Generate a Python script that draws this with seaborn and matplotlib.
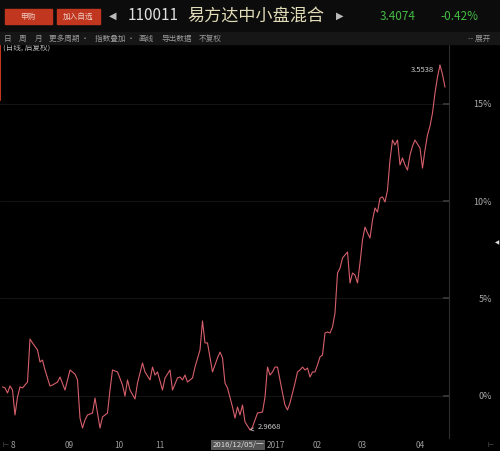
import matplotlib
matplotlib.use('Agg')
import matplotlib.pyplot as plt
import seaborn as sns
import pandas as pd
from matplotlib.patches import Rectangle

# trading-day index since the start of the window, and cumulative change in %
days = [1, 2, 3, 4, 5, 6, 7, 8, 9, 11, 12, 13, 15, 16, 17, 18, 20, 21, 23, 24,
        26, 28, 30, 31, 32, 33, 34, 35, 37, 38, 39, 40, 41, 43, 44, 45, 47, 49, 50, 51,
        52, 54, 55, 57, 58, 60, 61, 62, 63, 65, 66, 68, 69, 71, 72, 73, 74, 75, 77, 78,
        80, 81, 82, 83, 85, 87, 88, 89, 90, 91, 93, 94, 95, 96, 97, 98, 100, 101, 103, 105,
        106, 107, 108, 109, 110, 111, 112, 113, 114, 115, 116, 117, 118, 119, 120, 121, 122, 123, 124, 125,
        126, 127, 128, 129, 130, 131, 132, 133, 134, 135, 136, 137, 138, 139, 140, 141, 142, 143, 144, 145,
        146, 147, 148, 149, 150, 151, 152, 153, 154, 155, 156, 157, 158, 159, 160, 161, 162, 163, 164, 165,
        166, 168, 169, 170, 171, 172, 173, 174, 175, 176, 177, 178]
pct = [0.45, 0.40, 0.14, 0.50, 0.29, -0.99, -0.07, 0.45, 0.40, 0.70, 2.91, 2.71, 2.35, 1.73, 1.83, 1.32, 0.50, 0.55, 0.70, 0.96,
       0.29, 1.32, 1.11, 0.81, -1.15, -1.66, -1.25, -0.99, -0.89, -0.12, -0.89, -1.66, -1.09, -0.89, 0.29, 1.32, 1.22, 0.55, -0.02, 0.81,
       0.29, -0.17, 0.65, 1.68, 1.22, 0.81, 1.47, 1.06, 1.22, 0.29, 0.91, 1.32, 0.29, 0.91, 0.96, 0.81, 1.06, 0.70, 0.91, 1.47,
       2.35, 3.84, 2.71, 2.71, 1.22, 1.94, 2.24, 1.94, 0.65, 0.40, -0.58, -1.15, -0.58, -0.99, -0.48, -1.35, -1.76, -1.61, -0.89, -0.84,
       -0.07, 1.47, 1.06, 1.22, 1.47, 1.47, 0.81, 0.14, -0.48, -0.73, -0.37, 0.14, 0.65, 1.22, 1.32, 1.47, 1.32, 1.42, 0.96, 1.22,
       1.22, 1.58, 1.99, 2.09, 3.22, 3.27, 3.22, 3.53, 4.25, 6.30, 6.55, 7.07, 7.23, 7.38, 5.79, 6.30, 6.20, 5.79, 6.82, 8.00,
       8.66, 8.36, 8.10, 9.02, 9.64, 9.43, 10.15, 10.21, 9.95, 10.56, 12.11, 13.13, 12.88, 13.13, 11.85, 12.21, 11.85, 11.59, 12.36, 12.82,
       13.13, 12.72, 11.69, 12.62, 13.39, 13.85, 14.52, 15.55, 16.37, 16.98, 16.50, 15.85]

month_labels = ['8', '09', '10', '11', '2017', '02', '03', '04']
ytick_vals = [0, 5, 10, 15]
ytick_labels = ['0%', '5%', '10%', '15%']
max_price = '3.5538'
min_price = '2.9668'

df = pd.DataFrame({'day': days, 'pct': pct})

sns.set_theme(style='dark', rc={'axes.facecolor': '#000000', 'figure.facecolor': '#000000'})
plt.rcParams['font.family'] = ['Noto Sans CJK SC', 'DejaVu Sans']

W, H = 500, 451
fig = plt.figure(figsize=(5.0, 4.51), dpi=100)


def fx(px):
    return px / W


def fy(py):
    return 1 - py / H


# header bar
fig.patches.append(Rectangle((0, fy(32)), 1, 32 / H, transform=fig.transFigure,
                             color='#0c0c0c', zorder=0))
fig.patches.append(Rectangle((0, fy(44)), 1, 12 / H, transform=fig.transFigure,
                             color='#161616', zorder=0))
fig.patches.append(Rectangle((fx(5), fy(24)), 47 / W, 15 / H, transform=fig.transFigure,
                             color='#c0361f', zorder=1))
fig.patches.append(Rectangle((fx(57), fy(24)), 43 / W, 15 / H, transform=fig.transFigure,
                             color='#c0361f', zorder=1))
fig.text(fx(28), fy(16.5), '申购', color='#f0d0c8', fontsize=5.5, ha='center', va='center')
fig.text(fx(78), fy(16.5), '加入自选', color='#f0d0c8', fontsize=5.5, ha='center', va='center')
fig.text(fx(113), fy(16), '◀', color='#bbbbbb', fontsize=7, ha='center', va='center',
         family=['DejaVu Sans'])
fig.text(fx(128), fy(16), '110011', color='#e0e0e0', fontsize=11, ha='left', va='center')
fig.text(fx(187), fy(16), '易方达中小盘混合', color='#e2dcb8', fontsize=12.3, ha='left', va='center')
fig.text(fx(340), fy(16), '▶', color='#bbbbbb', fontsize=7, ha='center', va='center',
         family=['DejaVu Sans'])
fig.text(fx(380), fy(16), '3.4074', color='#44bb44', fontsize=8.5, ha='left', va='center')
fig.text(fx(440), fy(16), '-0.42%', color='#44bb44', fontsize=8.5, ha='left', va='center')

toolbar = [(4, '日'), (19, '周'), (35, '月'), (49, '更多周期 ·'), (95, '指数叠加 ·'),
           (138, '画线'), (161, '导出数据'), (199, '不复权')]
for px, txt in toolbar:
    fig.text(fx(px), fy(38.5), txt, color='#9a9a9a', fontsize=5.5, ha='left', va='center')
fig.text(fx(490), fy(38.5), '-- 展开', color='#9a9a9a', fontsize=5.5, ha='right', va='center')

# chart
ax = fig.add_axes([0, fy(438), fx(449), (438 - 45) / H])
sns.lineplot(data=df, x='day', y='pct', ax=ax, color='#d65f6b', linewidth=0.8)
ax.set_xlim(0, 449 / 2.5)
ax.set_ylim((395.7 - 438) / 19.47, (395.7 - 45) / 19.47)
ax.set_xlabel('')
ax.set_ylabel('')
for v in ytick_vals:
    ax.axhline(v, color='#141414', lw=0.8, zorder=0)
ax.set_xticks([])
ax.set_yticks(ytick_vals)
ax.set_yticklabels(ytick_labels)
ax.yaxis.tick_right()
ax.tick_params(axis='y', length=4, direction='in', color='#3a3a3a', pad=31,
               labelcolor='#aaaaaa', labelsize=6.5)
for lab in ax.get_yticklabels():
    lab.set_horizontalalignment('right')
for side in ['top', 'left', 'bottom']:
    ax.spines[side].set_visible(False)
ax.spines['right'].set_color('#2e2e2e')
ax.spines['right'].set_linewidth(0.8)
ax.plot([0, 0], [15.2, 18.0], color='#c0361f', lw=1.5, clip_on=False)

ax.text(1.2, (395.7 - 48) / 19.47, '(日线, 后复权)', color='#bbbbbb', fontsize=5.5,
        ha='left', va='center')

imax = pct.index(max(pct))
imin = pct.index(min(pct))
ax.annotate(max_price, xy=(days[imax], pct[imax]), xytext=(days[imax] - 2.5, pct[imax] - 0.25),
            color='#cccccc', fontsize=5.5, ha='right', va='center',
            arrowprops=dict(arrowstyle='-', color='#cccccc', lw=0.5))
ax.annotate(min_price, xy=(days[imin], pct[imin]), xytext=(days[imin] + 3, pct[imin] + 0.15),
            color='#cccccc', fontsize=5.5, ha='left', va='center',
            arrowprops=dict(arrowstyle='->', color='#cccccc', lw=0.5))

# x labels (month starts)
month_px = [13, 69, 119, 160, 276, 317, 362, 420]
for px, lab in zip(month_px, month_labels):
    fig.text(fx(px), fy(445), lab, color='#999999', fontsize=6, ha='center', va='center')
fig.text(fx(5), fy(445), '⊢', color='#777777', fontsize=5, ha='center', va='center',
         family=['DejaVu Sans'])
fig.text(fx(490), fy(445), '⊢', color='#777777', fontsize=5, ha='center', va='center',
         family=['DejaVu Sans'])
fig.text(fx(238), fy(445), '2016/12/05/一', color='#dddddd', fontsize=5.6, ha='center', va='center',
         bbox=dict(boxstyle='square,pad=0.15', fc='#555555', ec='none'))
fig.text(fx(497), fy(243), '◀', color='#dddddd', fontsize=4, ha='center', va='center',
         family=['DejaVu Sans'])

fig.savefig('out.png', dpi=100, facecolor='#000000')
